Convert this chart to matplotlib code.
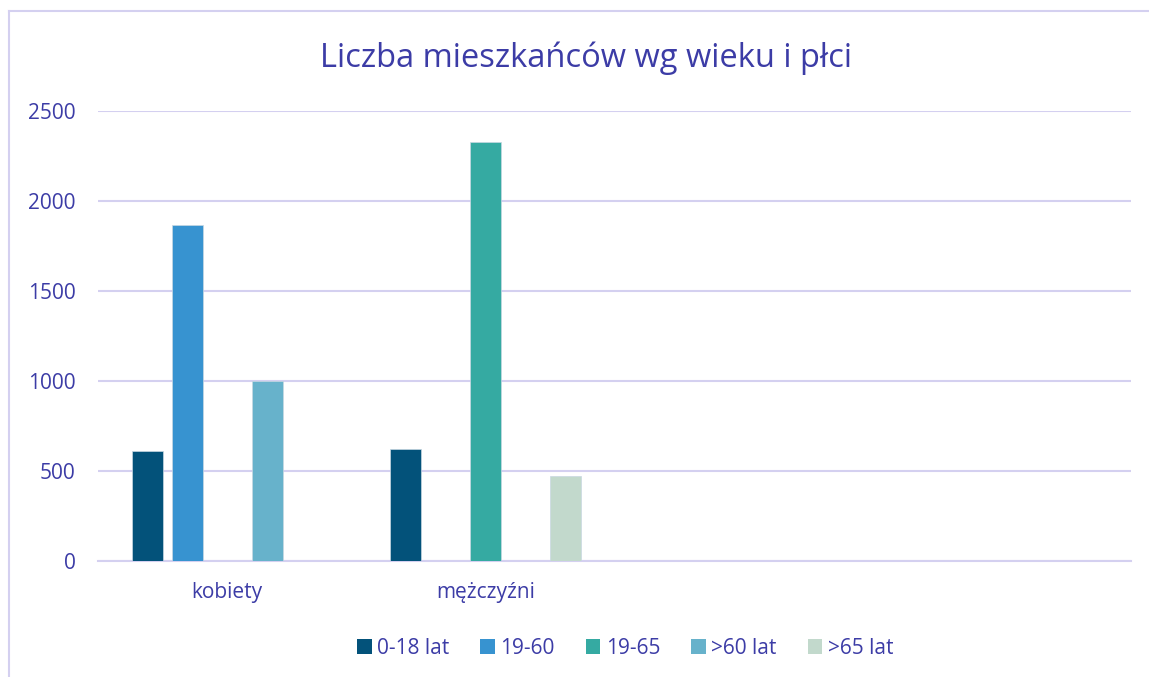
import numpy as np
import matplotlib.pyplot as plt
from matplotlib.patches import Patch

# data
categories = ["kobiety", "mężczyźni", "", ""]
series = ["0-18 lat", "19-60", "19-65", ">60 lat", ">65 lat"]
v_0_18 = [610, 625, 0, 0]
v_19_60 = [1865, 0, 0, 0]
v_19_65 = [0, 2325, 0, 0]
v_60 = [1000, 0, 0, 0]
v_65 = [0, 475, 0, 0]
values = [v_0_18, v_19_60, v_19_65, v_60, v_65]
colors = ["#03527A", "#3793D0", "#35AAA2", "#67B2CB", "#C2D9CC"]

txt = "#3C3CA6"
grid = "#D4D0F0"
plt.rcParams['font.family'] = ['Open Sans', 'DejaVu Sans']

fig = plt.figure(figsize=(11.49, 6.77), dpi=100)
ax = fig.add_axes([98/1149, 1-561/677, (1131-98)/1149, (561-111)/677])

x = np.arange(len(categories))
step = 0.155
width = 0.12
for i, (vals, c) in enumerate(zip(values, colors)):
    off = (i - 2) * step
    ax.bar(x + off, vals, width=width, color=c, edgecolor="#C8D8E2", linewidth=0.5, zorder=3)

ax.set_xlim(-0.5, len(categories) - 0.5)
ax.set_ylim(0, 2500)
ax.set_yticks(range(0, 2501, 500))
ax.yaxis.grid(True, color=grid, linewidth=1.5, zorder=0)
ax.tick_params(axis='y', length=0, pad=16, labelsize=15, labelcolor=txt)
ax.set_xticks(x)
ax.set_xticklabels(categories)
ax.tick_params(axis='x', length=0, pad=15, labelsize=15, labelcolor=txt)
for s in ["top", "right", "left"]:
    ax.spines[s].set_visible(False)
ax.spines["bottom"].set_color(grid)
ax.spines["bottom"].set_linewidth(1.5)

fig.text(0.51, 1-58/677, "Liczba mieszkańców wg wieku i płci", ha="center", va="center",
         fontsize=23.5, color=txt)

handles = [Patch(facecolor=c, label=s) for c, s in zip(colors, series)]
fig.legend(handles=handles, loc="center", bbox_to_anchor=(0.544, 1-648/677), ncol=5,
           frameon=False, fontsize=15, labelcolor=txt, handlelength=0.7, handleheight=0.7,
           handletextpad=0.25, columnspacing=1.5)

# chart frame (left and top edges visible)
fig.add_artist(plt.Line2D([9/1149, 9/1149], [0, 1-11/677], transform=fig.transFigure, color=grid, lw=1.5))
fig.add_artist(plt.Line2D([9/1149, 1], [1-11/677, 1-11/677], transform=fig.transFigure, color=grid, lw=1.5))

fig.savefig("out.png", dpi=100, facecolor="white")
